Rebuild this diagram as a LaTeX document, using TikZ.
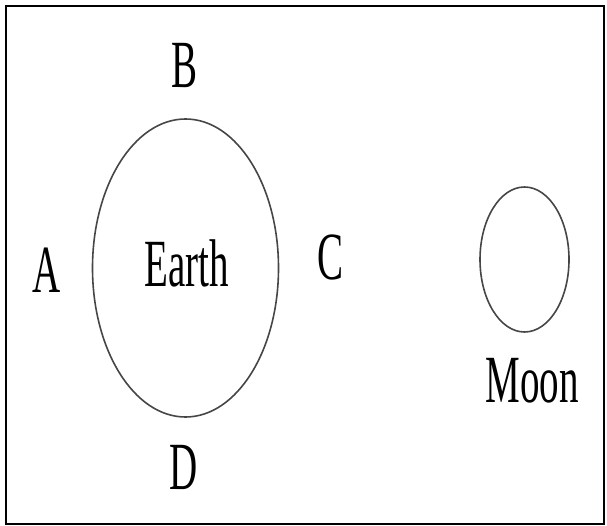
\documentclass[tikz,border=0pt]{standalone}
\usepackage{fontspec}
\setmainfont{Liberation Serif}
\usepackage{tikz}
\definecolor{rim}{RGB}{70,70,70}

\begin{document}
\begin{tikzpicture}[x=1pt,y=-1pt,
		lbl/.style={font=\fontsize{39}{40}\selectfont,inner sep=0pt,yscale=1.73,transform shape}]
			\useasboundingbox (0,0) rectangle (607,526);
			% frame
			\draw[line width=1.5pt] (6,6) rectangle (604,524);
			% earth and moon
			\draw[rim,line width=1.6pt] (185.5,268) ellipse [x radius=93,y radius=149];
			\draw[rim,line width=1.6pt] (524.5,259.5) ellipse [x radius=44.5,y radius=72.5];
			% labels
			\node[lbl] (earth) at (186.5,263) {Earth};
			\node[lbl] (moon) at (532,381) {Moon};
			\node[lbl] (ptA) at (46.5,270) {A};
			\node[lbl] (ptB) at (184.5,66) {B};
			\node[lbl] (ptC) at (331,257.5) {C};
			\node[lbl] (ptD) at (184,467) {D};
		\end{tikzpicture}
\end{document}
